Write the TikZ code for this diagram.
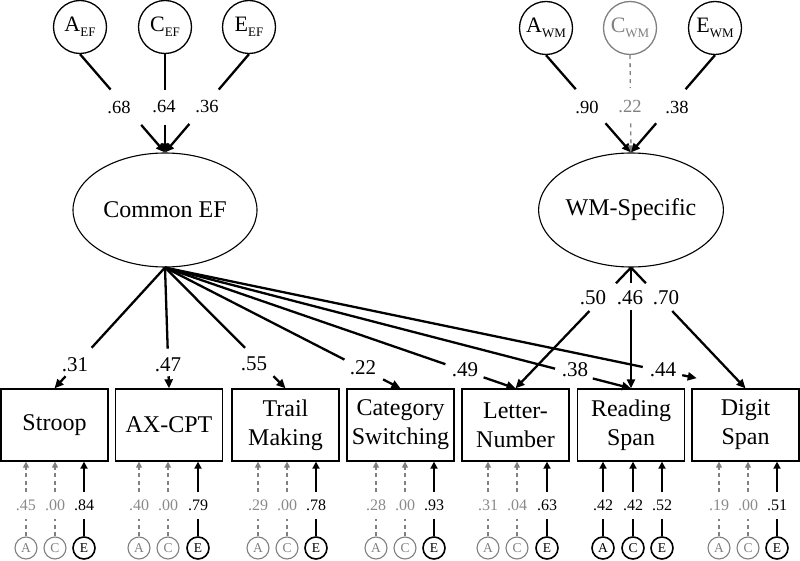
\documentclass[tikz,border=0pt]{standalone}
\usepackage{fontspec}
\setmainfont{Liberation Serif}
\usetikzlibrary{arrows.meta,shapes.geometric,calc}
\definecolor{gr}{HTML}{808080}
\definecolor{grt}{HTML}{8A8A8A}
\newcommand\gapln[5]{%
  \draw[#1,-] (#2) -- ($(#2)!#4!(#3)$);
  \draw[#1] ($(#2)!#5!(#3)$) -- (#3);}
\newcommand\resone[6]{%
  \node[rc#6] (#1) at (#3,548) {#2};
  \draw[rl#6,-] (#1.north) -- ++(0,-17);
  \draw[rl#6] ($(#1.north)+(0,-44)$) -- (#1 |- #4.south);
  \node[rt#6] at (#3,505) {#5};}
\begin{document}
\begin{tikzpicture}[x=1pt,y=-1pt,
  topc/.style={circle,draw,line width=1.3pt,minimum size=53pt,inner sep=0pt,font=\fontsize{22}{22}\selectfont},
  lat/.style={ellipse,draw,line width=1.1pt,minimum width=184pt,minimum height=114pt,inner sep=0pt,font=\fontsize{24}{24}\selectfont},
  obs/.style={rectangle,draw,line width=1.3pt,minimum width=107pt,minimum height=72pt,inner sep=0pt,align=center,font=\fontsize{24}{29}\selectfont},
  ln/.style={line width=2.3pt},
  arr/.style={ln,-{Triangle[length=9pt,width=8pt]}},
  dln/.style={line width=1.3pt,gr,dash pattern=on 4pt off 4pt,-{Triangle[length=7pt,width=6pt]}},
  lab/.style={font=\fontsize{18.5}{18.5}\selectfont,inner sep=0pt},
  labb/.style={font=\fontsize{21}{21}\selectfont,inner sep=0pt},
  rcs/.style={circle,draw,line width=1.6pt,minimum size=22pt,inner sep=0pt,font=\fontsize{13.5}{13.5}\selectfont},
  rcn/.style={circle,draw=gr,text=gr,line width=1.1pt,minimum size=22pt,inner sep=0pt,font=\fontsize{13.5}{13.5}\selectfont},
  rls/.style={line width=2.8pt,-{Triangle[length=7pt,width=7pt]}},
  rln/.style={line width=1.3pt,gr,dash pattern=on 4pt off 3.5pt,-{Triangle[length=6pt,width=6pt]}},
  rts/.style={font=\fontsize{16}{16}\selectfont,inner sep=0pt},
  rtn/.style={font=\fontsize{16}{16}\selectfont,inner sep=0pt,text=grt}
]
\useasboundingbox (0,0) rectangle (800,561);

% ACE of latent factors
\node[topc] (aef) at (80,27) {A\raisebox{-5pt}{\fontsize{13}{13}\selectfont EF}};
\node[topc] (cef0) at (165,27) {C\raisebox{-5pt}{\fontsize{13}{13}\selectfont EF}};
\node[topc] (eef) at (249,27) {E\raisebox{-5pt}{\fontsize{13}{13}\selectfont EF}};
\node[topc] (awm) at (546,28) {A\raisebox{-5pt}{\fontsize{13}{13}\selectfont WM}};
\node[topc,draw=gr,text=gr] (cwm) at (630,28) {C\raisebox{-5pt}{\fontsize{13}{13}\selectfont WM}};
\node[topc] (ewm) at (715,28) {E\raisebox{-5pt}{\fontsize{13}{13}\selectfont WM}};

% latent factors
\node[lat] (cef) at (165,210) {Common EF};
\node[lat] (wms) at (631,210) {WM-Specific};

% observed
\node[obs] (stroop) at (54.5,425) {Stroop};
\node[obs] (ax) at (169,425) {AX-CPT};
\node[obs] (trail) at (285.5,425) {Trail\\Making};
\node[obs] (cat) at (400.5,425) {Category\\Switching};
\node[obs] (ln) at (515.5,425) {Letter-\\Number};
\node[obs] (rs) at (631,425) {Reading\\Span};
\node[obs] (ds) at (745.5,425) {Digit\\Span};

% top paths
\gapln{arr}{aef.south}{cef.north}{0.36}{0.72}
\gapln{arr}{cef0.south}{cef.north}{0.36}{0.72}
\gapln{arr}{eef.south}{cef.north}{0.36}{0.71}
\node[lab] at (119,107) {.68};
\node[lab] at (164,107) {.64};
\node[lab] at (207,107) {.36};
\gapln{arr}{awm.south}{wms.north}{0.35}{0.70}
\gapln{dln}{cwm.south}{wms.north}{0.34}{0.70}
\gapln{arr}{ewm.south}{wms.north}{0.35}{0.70}
\node[lab] at (587,107) {.90};
\node[lab,text=gr] at (630,107) {.22};
\node[lab] at (677,107) {.38};

% common EF loadings
\gapln{arr}{cef.south}{stroop.north}{0.664}{0.90}
\gapln{arr}{cef.south}{ax.north}{0.672}{0.90}
\gapln{arr}{cef.south}{trail.north}{0.664}{0.90}
\gapln{arr}{cef.south}{cat.north}{0.762}{0.926}
\gapln{arr}{cef.south}{ln.north}{0.80}{0.909}
\gapln{arr}{cef.south}{rs.north}{0.837}{0.918}
\draw[ln] (cef.south) -- ($(cef.south)!0.823!(ds.north)$);
\draw[arr] ($(cef.south)!0.891!(ds.north)$) -- ($(cef.south)!0.916!(ds.north)$);
\node[labb] at (75,365) {.31};
\node[labb] at (168,365) {.47};
\node[labb] at (254,364) {.55};
\node[labb] at (363,368) {.22};
\node[labb] at (465,370) {.49};
\node[labb] at (575,370) {.38};
\node[labb] at (663,370) {.44};

% WM loadings
\gapln{arr}{wms.south}{ln.north}{0.13}{0.36}
\gapln{arr}{wms.south}{rs.north}{0.13}{0.35}
\gapln{arr}{wms.south}{ds.north}{0.13}{0.36}
\node[labb] at (593,298) {.50};
\node[labb] at (630,298) {.46};
\node[labb] at (666,298) {.70};

% residual ACE
\resone{stroopA}{A}{26}{stroop}{.45}{n}
\resone{stroopC}{C}{55}{stroop}{.00}{n}
\resone{stroopE}{E}{84}{stroop}{.84}{s}
\resone{axA}{A}{139}{ax}{.40}{n}
\resone{axC}{C}{168}{ax}{.00}{n}
\resone{axE}{E}{198}{ax}{.79}{s}
\resone{trailA}{A}{258}{trail}{.29}{n}
\resone{trailC}{C}{287}{trail}{.00}{n}
\resone{trailE}{E}{316}{trail}{.78}{s}
\resone{catA}{A}{376}{cat}{.28}{n}
\resone{catC}{C}{405}{cat}{.00}{n}
\resone{catE}{E}{434}{cat}{.93}{s}
\resone{lnA}{A}{488}{ln}{.31}{n}
\resone{lnC}{C}{517}{ln}{.04}{n}
\resone{lnE}{E}{547}{ln}{.63}{s}
\resone{rsA}{A}{603}{rs}{.42}{s}
\resone{rsC}{C}{633}{rs}{.42}{s}
\resone{rsE}{E}{662}{rs}{.52}{s}
\resone{dsA}{A}{719}{ds}{.19}{n}
\resone{dsC}{C}{748}{ds}{.00}{n}
\resone{dsE}{E}{777}{ds}{.51}{s}
\end{tikzpicture}
\end{document}
